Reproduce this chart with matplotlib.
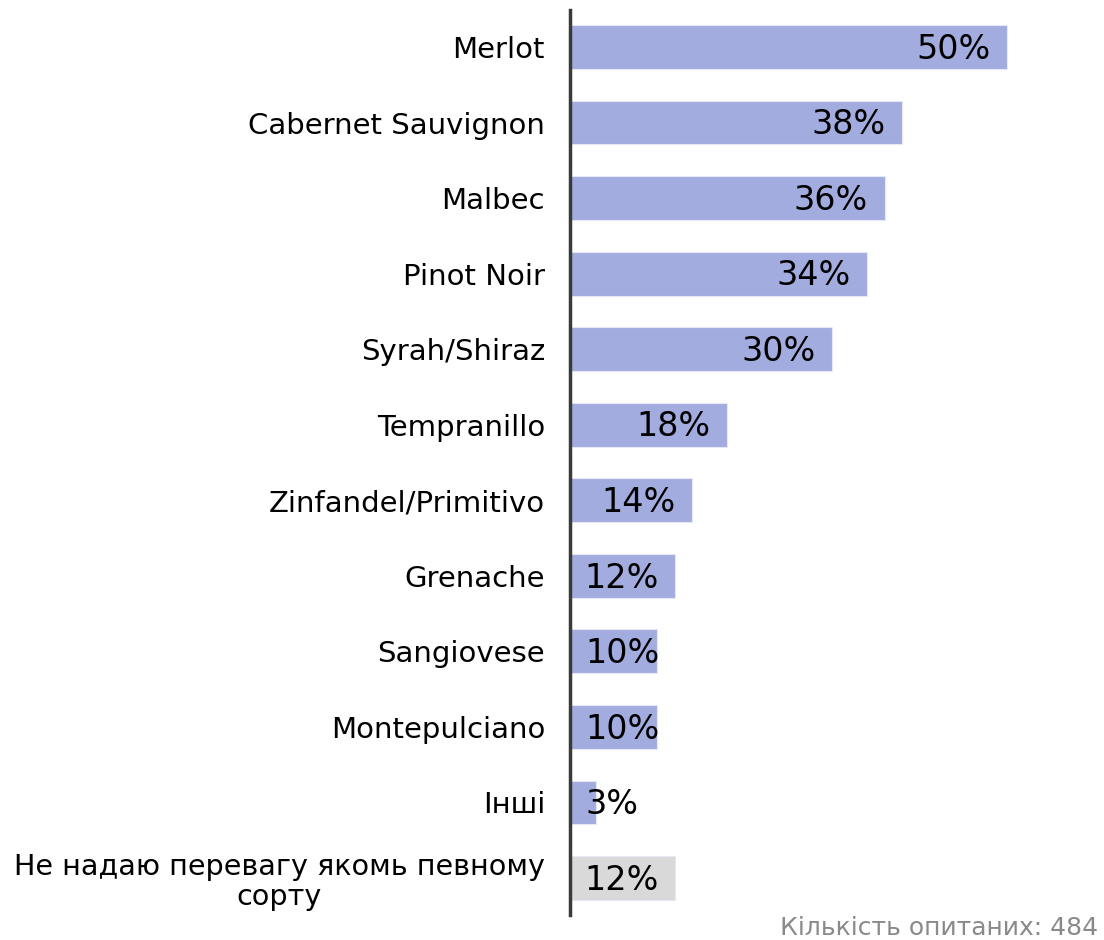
import matplotlib
matplotlib.use("Agg")
import matplotlib.pyplot as plt

varieties = ["Merlot", "Cabernet Sauvignon", "Malbec", "Pinot Noir", "Syrah/Shiraz",
             "Tempranillo", "Zinfandel/Primitivo", "Grenache", "Sangiovese",
             "Montepulciano", "Інші", "Не надаю перевагу якомь певному\nсорту"]
shares = [50, 38, 36, 34, 30, 18, 14, 12, 10, 10, 3, 12]
bar_colors = ["#a3acdf"] * 11 + ["#d9d9d9"]
note = "Кількість опитаних: 484"

plt.rcParams['font.family'] = ['DejaVu Sans']

fig = plt.figure(figsize=(11.04, 9.4), dpi=100)
ax = fig.add_axes([570 / 1104, 25 / 940, 534 / 1104, 905 / 940])

idx = list(range(len(varieties)))
ax.barh(idx, shares, height=0.58, color=bar_colors, edgecolor="#e6e8f6", linewidth=0.8)

# value labels: inside the bar end, or from the axis when the bar is short
for i, v in enumerate(shares):
    if v >= 12:
        ax.text(v - 1.9, i + 0.03, f"{v}%", ha="right", va="center", fontsize=24, color="black")
    else:
        ax.text(1.8, i + 0.03, f"{v}%", ha="left", va="center", fontsize=24, color="black")

ax.set_xlim(0, 61.1)
ax.set_ylim(11.49, -0.49)
ax.set_yticks(idx)
ax.set_yticklabels(varieties, fontsize=21, linespacing=1.1)
for lab in ax.get_yticklabels():
    lab.set_multialignment("center")
    if "\n" in lab.get_text():
        lab.set_fontsize(20.6)
ax.tick_params(axis="y", length=0, pad=18)
ax.set_xticks([])
for s in ["top", "right", "bottom"]:
    ax.spines[s].set_visible(False)
ax.spines["left"].set_color("#3a3a3a")
ax.spines["left"].set_linewidth(2.5)

fig.text(1098 / 1104, 1 - 928 / 940, note, ha="right", va="center", fontsize=18,
         color="#8a8a8a")

fig.savefig("out.png", dpi=100)
